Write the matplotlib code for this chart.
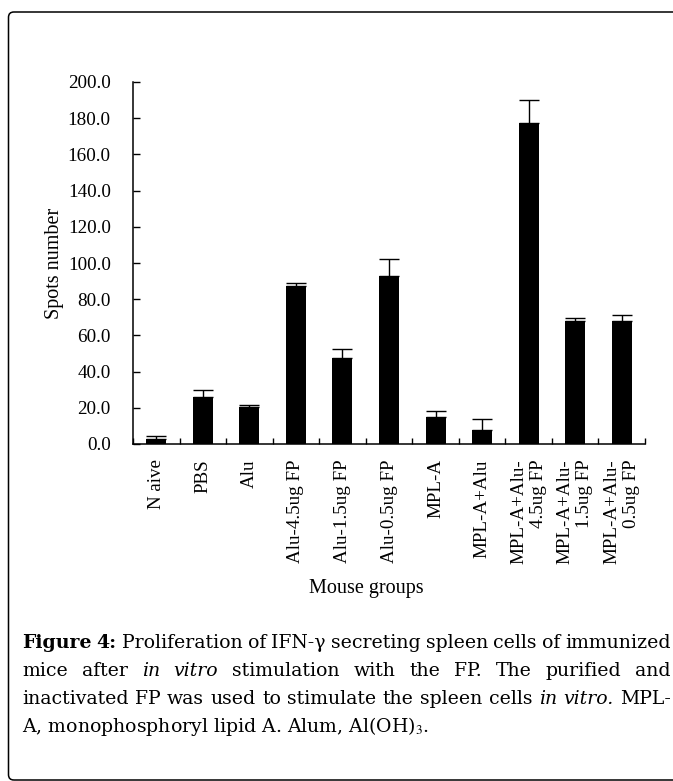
import numpy as np
import matplotlib.pyplot as plt
from matplotlib.patches import FancyBboxPatch

plt.rcParams['font.family'] = ['Liberation Serif', 'DejaVu Serif']
plt.rcParams['mathtext.fontset'] = 'stix'

### Data
groups = ['N aive', 'PBS', 'Alu', 'Alu-4.5ug FP', 'Alu-1.5ug FP', 'Alu-0.5ug FP',
          'MPL-A', 'MPL-A+Alu', 'MPL-A+Alu-\n4.5ug FP', 'MPL-A+Alu-\n1.5ug FP',
          'MPL-A+Alu-\n0.5ug FP']
spots = [2.8, 25.9, 20.2, 87.5, 47.7, 93.0, 15.1, 7.7, 177.2, 68.1, 68.1]
spots_err = [1.4, 4.1, 1.5, 1.5, 4.6, 9.2, 3.1, 6.3, 13.0, 1.7, 3.4]
y_ticks = [0, 20, 40, 60, 80, 100, 120, 140, 160, 180, 200]

W, H = 673, 781
fig = plt.figure(figsize=(W/100, H/100), dpi=100)

def px(x, y):  # pixel coords from top-left -> figure fraction
    return x/W, 1 - y/H

# outer rounded frame (cut off at right and bottom)
frame = FancyBboxPatch((8.5/W, 1/H), (W + 10 - 8.5)/W, (H - 12 - 1)/H,
                       boxstyle="round,pad=0,rounding_size=0.008",
                       transform=fig.transFigure, fill=False, lw=1.1, ec='black',
                       mutation_aspect=W/H)
fig.patches.append(frame)

ax = fig.add_axes([133/W, 1 - 444/H, (645 - 133)/W, (444 - 82)/H])
x = np.arange(len(groups))
ax.bar(x, spots, width=0.43, color='black', zorder=2)
ax.errorbar(x, spots, yerr=[np.zeros(len(spots)), spots_err], fmt='none',
            ecolor='black', elinewidth=1.0, capsize=7, capthick=1.0, zorder=3)

ax.set_xlim(-0.5, len(groups) - 0.5)
ax.set_ylim(0, 200)
ax.set_yticks(y_ticks)
ax.set_yticklabels(['%.1f' % v for v in y_ticks], fontsize=13.8)
ax.set_xticks(np.arange(len(groups) + 1) - 0.5)
ax.set_xticklabels([])
ax.set_xticks(x, minor=True)
ax.set_xticklabels(groups, minor=True, rotation=90, fontsize=13.7, multialignment='right')
ax.tick_params(axis='x', which='major', direction='in', length=4.5, width=1.0)
ax.tick_params(axis='x', which='minor', length=0, pad=11)
ax.tick_params(axis='y', direction='in', length=5, width=1.0, pad=16)
for s in ['top', 'right']:
    ax.spines[s].set_visible(False)
for s in ['left', 'bottom']:
    ax.spines[s].set_linewidth(1.1)

ax.set_ylabel('Spots number', fontsize=14.5, labelpad=3)
ax.set_xlabel('Mouse groups', fontsize=14.5)
ax.xaxis.set_label_coords(0.455, -0.373)

### Caption, justified by hand
cap_font = 'DejaVu Serif'
cap_size = 13.6
left, right = 22, 671
lines = [
    [('Figure', 'bold', 'normal'), ('4:', 'bold', 'normal'), ('Proliferation', 'normal', 'normal'),
     ('of', 'normal', 'normal'), ('IFN-γ', 'normal', 'normal'), ('secreting', 'normal', 'normal'),
     ('spleen', 'normal', 'normal'), ('cells', 'normal', 'normal'), ('of', 'normal', 'normal'),
     ('immunized', 'normal', 'normal')],
    [('mice', 'normal', 'normal'), ('after', 'normal', 'normal'), ('in', 'normal', 'italic'),
     ('vitro', 'normal', 'italic'), ('stimulation', 'normal', 'normal'), ('with', 'normal', 'normal'),
     ('the', 'normal', 'normal'), ('FP.', 'normal', 'normal'), ('The', 'normal', 'normal'),
     ('purified', 'normal', 'normal'), ('and', 'normal', 'normal')],
    [('inactivated', 'normal', 'normal'), ('FP', 'normal', 'normal'), ('was', 'normal', 'normal'),
     ('used', 'normal', 'normal'), ('to', 'normal', 'normal'), ('stimulate', 'normal', 'normal'),
     ('the', 'normal', 'normal'), ('spleen', 'normal', 'normal'), ('cells', 'normal', 'normal'),
     ('in', 'normal', 'italic'), ('vitro.', 'normal', 'italic'), ('MPL-', 'normal', 'normal')],
]
baselines = [648, 676, 704, 732]

renderer = fig.canvas.get_renderer()
for line, yb in zip(lines, baselines):
    texts = [fig.text(0, px(0, yb)[1], w, fontsize=cap_size, family=cap_font,
                      weight=wt, style=st, va='baseline', ha='left')
             for w, wt, st in line]
    widths = [t.get_window_extent(renderer).width for t in texts]
    gap = (right - left - sum(widths)) / (len(texts) - 1)
    xpos = left
    for t, wdt in zip(texts, widths):
        t.set_x(xpos / W)
        xpos += wdt + gap

fig.text(left/W, px(0, baselines[3])[1], 'A, monophosphoryl lipid A. Alum, Al(OH)$_3$.',
         fontsize=cap_size, family=cap_font, va='baseline', ha='left')

fig.savefig('out.png', dpi=100)
